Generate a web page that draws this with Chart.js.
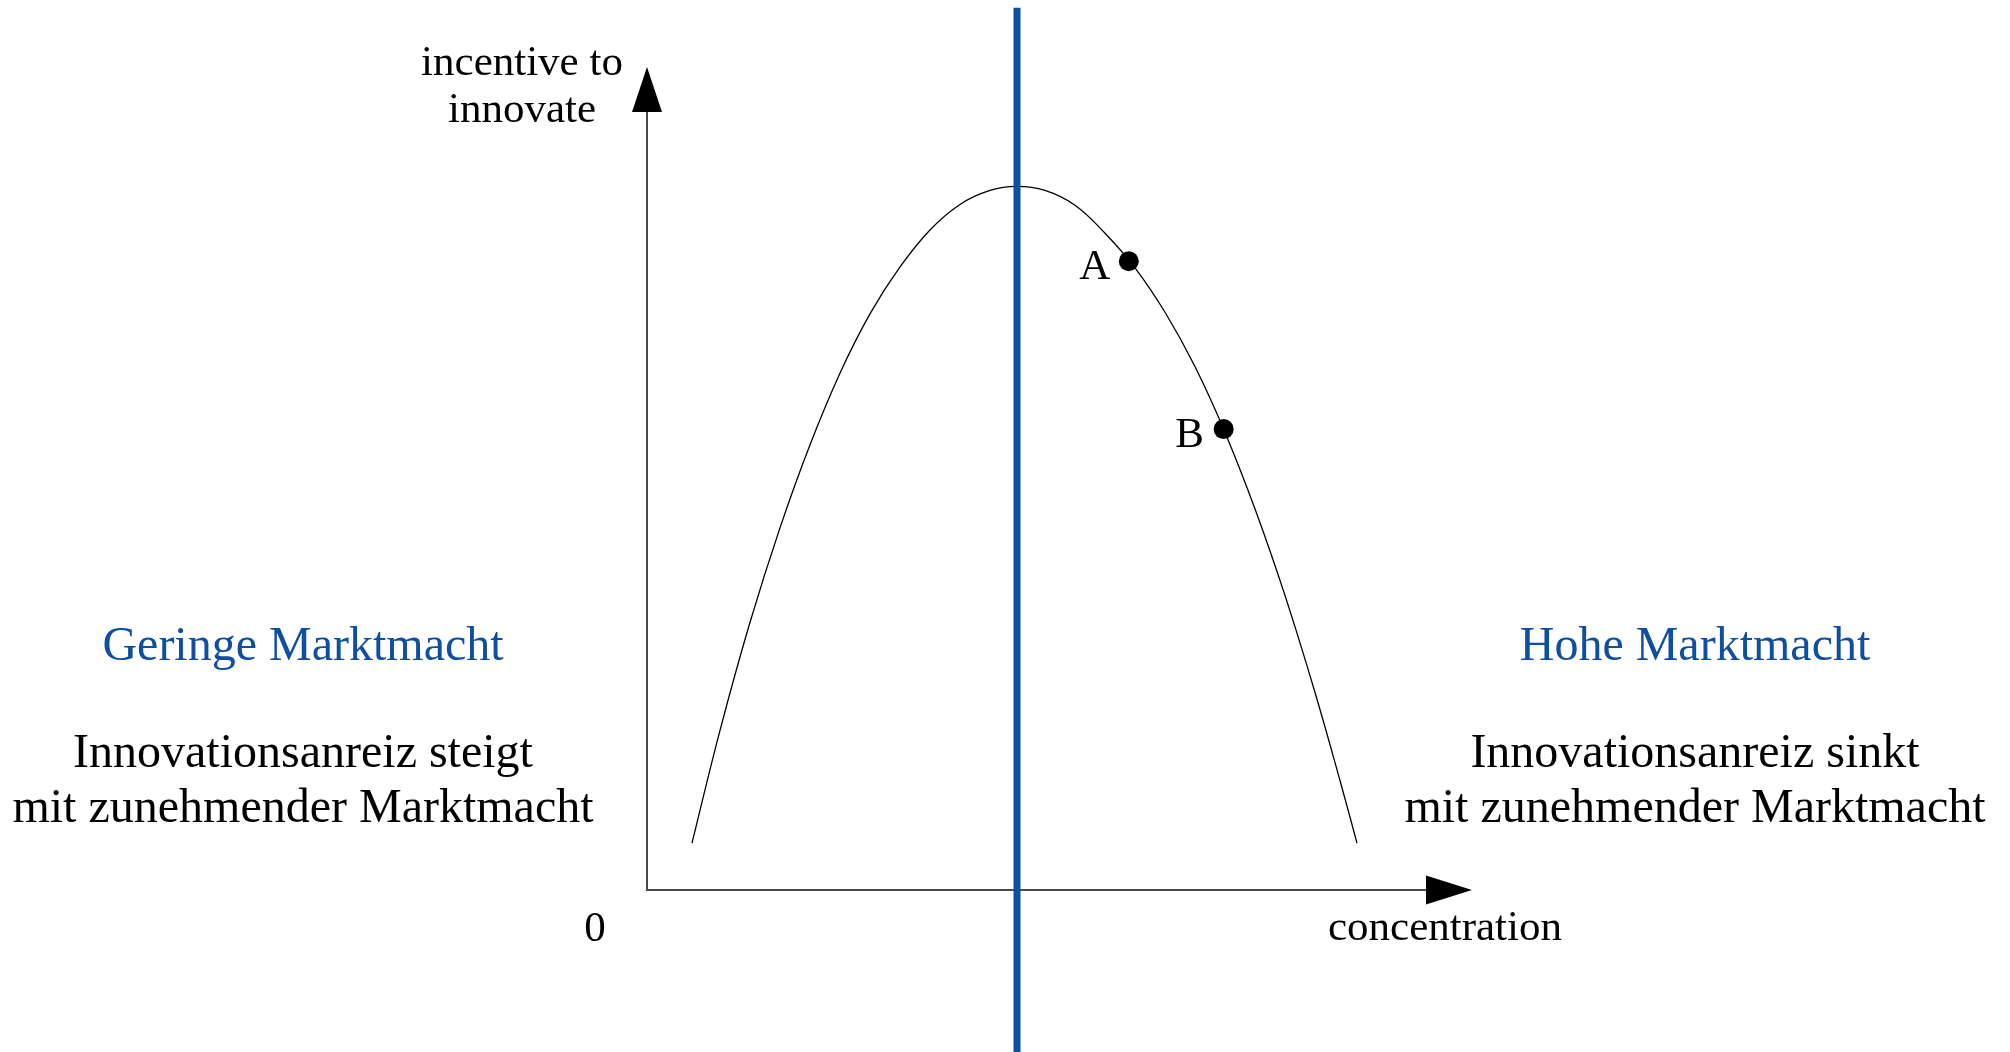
<!DOCTYPE html>
<html>
<head>
<meta charset="utf-8">
<title>Innovationsanreiz und Marktmacht</title>
<script src="https://cdn.jsdelivr.net/npm/chart.js@4.4.1/dist/chart.umd.min.js"></script>
<style>
  html, body { margin: 0; padding: 0; background: #fff; }
  #chart { display: block; }
</style>
</head>
<body>
<canvas id="chart" width="2010" height="1052"></canvas>
<script>
// inverted-U curve: concentration (x) vs incentive to innovate (y), both 0..100
const curveX = [5.45, 8.85, 12.48, 16.12, 19.76, 23.39, 27.03, 30.67, 34.30, 37.94, 41.58, 44.85,
                48.24, 51.88, 55.52, 59.15, 62.79, 66.42, 70.06, 73.70, 77.33, 80.97, 84.0, 86.06];
const curveY = [5.7, 19.4, 32.5, 44.0, 54.1, 62.8, 70.0, 75.7, 80.2, 83.3, 85.0, 85.5,
                85.0, 83.2, 79.8, 75.6, 70.2, 63.6, 55.6, 46.3, 35.8, 24.0, 13.3, 5.7];

// marked points on the falling branch
const pointLabels = ['A', 'B'];
const pointX = [58.4, 69.9];
const pointY = [76.4, 56.0];

// divide between low and high market power (at the peak)
const divideX = 44.85;

const BLUE = '#0e4fa1';
const SERIF = '"Liberation Serif", "Times New Roman", serif';

const curveData = curveX.map((x, i) => ({ x: x, y: curveY[i] }));
const pointData = pointX.map((x, i) => ({ x: x, y: pointY[i] }));

// axes with arrowheads, point letters and the text blocks
const decorations = {
  id: 'decorations',
  beforeDatasetsDraw(chart) {
    const { ctx, scales: { x, y } } = chart;
    const x0 = x.getPixelForValue(0), y0 = y.getPixelForValue(0);
    const xTip = x.getPixelForValue(100), yTip = y.getPixelForValue(100);
    ctx.save();
    ctx.strokeStyle = '#4a4a4a';
    ctx.lineWidth = 2;
    ctx.beginPath();
    ctx.moveTo(x0, yTip + 40);
    ctx.lineTo(x0, y0);
    ctx.lineTo(xTip - 40, y0);
    ctx.stroke();
    ctx.fillStyle = '#000';
    ctx.beginPath();
    ctx.moveTo(x0, yTip);
    ctx.lineTo(x0 - 15, yTip + 45);
    ctx.lineTo(x0 + 15, yTip + 45);
    ctx.closePath();
    ctx.fill();
    ctx.beginPath();
    ctx.moveTo(xTip, y0);
    ctx.lineTo(xTip - 46, y0 - 14.5);
    ctx.lineTo(xTip - 46, y0 + 14.5);
    ctx.closePath();
    ctx.fill();
    ctx.restore();
  },
  afterDraw(chart) {
    const { ctx, scales: { x, y } } = chart;
    ctx.save();
    ctx.textAlign = 'center';
    ctx.textBaseline = 'alphabetic';
    ctx.fillStyle = '#000';
    ctx.font = '43px ' + SERIF;
    ctx.fillText('incentive to', 522, 75);
    ctx.fillText('innovate', 522, 122);
    ctx.fillText('0', 595, 941);
    ctx.fillText('concentration', 1445, 940);

    pointLabels.forEach((lab, i) => {
      const px = x.getPixelForValue(pointX[i]);
      const py = y.getPixelForValue(pointY[i]);
      ctx.fillText(lab, px - 34, py + 18);
    });

    ctx.font = '48px ' + SERIF;
    ctx.fillStyle = BLUE;
    ctx.fillText('Geringe Marktmacht', 303, 660);
    ctx.fillText('Hohe Marktmacht', 1695, 660);
    ctx.fillStyle = '#000';
    ctx.fillText('Innovationsanreiz steigt', 303, 767);
    ctx.fillText('mit zunehmender Marktmacht', 303, 822);
    ctx.fillText('Innovationsanreiz sinkt', 1695, 767);
    ctx.fillText('mit zunehmender Marktmacht', 1695, 822);
    ctx.restore();
  }
};

new Chart(document.getElementById('chart').getContext('2d'), {
  type: 'scatter',
  data: {
    datasets: [
      {
        type: 'line',
        label: 'divide',
        data: [{ x: divideX, y: 107.2 }, { x: divideX, y: -20 }],
        borderColor: BLUE,
        borderWidth: 7,
        pointRadius: 0,
        clip: false,
        order: 1
      },
      {
        type: 'line',
        label: 'incentive',
        data: curveData,
        borderColor: '#000',
        borderWidth: 1.3,
        pointRadius: 0,
        tension: 0.4,
        clip: false,
        order: 2
      },
      {
        label: 'points',
        data: pointData,
        pointRadius: 10,
        pointBackgroundColor: '#000',
        pointBorderWidth: 0,
        clip: false,
        order: 0
      }
    ]
  },
  options: {
    responsive: false,
    animation: false,
    layout: { padding: { left: 647, right: 538, top: 67, bottom: 162 } },
    scales: {
      x: { type: 'linear', min: 0, max: 100, display: false },
      y: { type: 'linear', min: 0, max: 100, display: false }
    },
    plugins: {
      legend: { display: false },
      tooltip: { enabled: false }
    }
  },
  plugins: [decorations]
});
</script>
</body>
</html>
